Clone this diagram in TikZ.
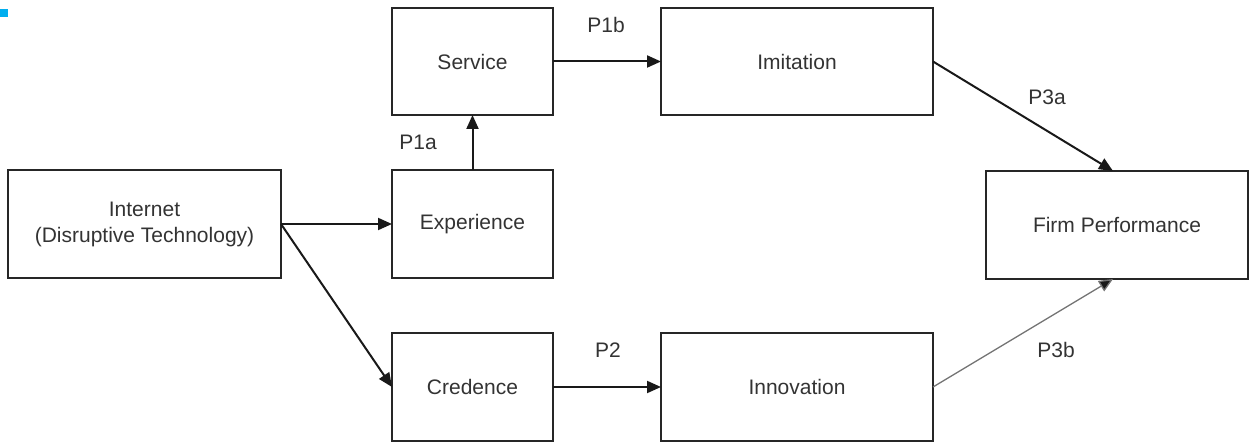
\documentclass[tikz,border=0pt]{standalone}
\usepackage{fontspec}
\setmainfont{Liberation Sans}
\usetikzlibrary{arrows.meta,calc}
\definecolor{txt}{HTML}{333333}
\definecolor{markblue}{HTML}{00AEEF}
\tikzset{
  box/.style={draw=black!85, line width=2pt, inner sep=0pt, outer sep=0pt, align=center, text=txt,
    font=\fontsize{21}{26}\selectfont},
  lbl/.style={inner sep=0pt, text=txt, font=\fontsize{21}{26}\selectfont},
  arr/.style={line width=2pt, draw=black!90, -{Triangle[length=14pt,width=12pt]}},
  garr/.style={line width=1.3pt, draw=black!55, -{Triangle[length=14pt,width=12pt,fill=black!90]}}
}
\begin{document}
\begin{tikzpicture}[x=1pt,y=-1pt]
\useasboundingbox (0,0) rectangle (1252,443);
\fill[markblue] (0,9) rectangle (8,17);
\node[box, minimum width=273pt, minimum height=108pt] (int) at (144.5,224) {Internet\\(Disruptive Technology)};
\node[box, minimum width=161pt, minimum height=107pt] (serv) at (472.5,61.5) {Service};
\node[box, minimum width=272pt, minimum height=107pt] (imit) at (797,61.5) {Imitation};
\node[box, minimum width=161pt, minimum height=108pt] (exp) at (472.5,224) {Experience};
\node[box, minimum width=262pt, minimum height=108pt] (firm) at (1117,225) {Firm Performance};
\node[box, minimum width=161pt, minimum height=108pt] (cred) at (472.5,387) {Credence};
\node[box, minimum width=272pt, minimum height=108pt] (innov) at (797,387) {Innovation};
\draw[arr] (int.east) -- (exp.west);
\draw[arr] (int.east) -- (cred.west);
\draw[arr] (exp.north) -- (serv.south);
\draw[arr] (serv.east) -- (imit.west);
\draw[arr] (cred.east) -- (innov.west);
\coordinate (ftop) at ($(firm.north)+(-4,0)$);
\coordinate (fbot) at ($(firm.south)+(-4,0)$);
\draw[arr] (imit.east) -- (ftop);
\draw[garr] (innov.east) -- (fbot);
\node[lbl] (p1b) at (606,25) {P1b};
\node[lbl] (p1a) at (418,142) {P1a};
\node[lbl] (p3a) at (1047,97) {P3a};
\node[lbl] (p2) at (608,350) {P2};
\node[lbl] (p3b) at (1056,350) {P3b};
\end{tikzpicture}
\end{document}
